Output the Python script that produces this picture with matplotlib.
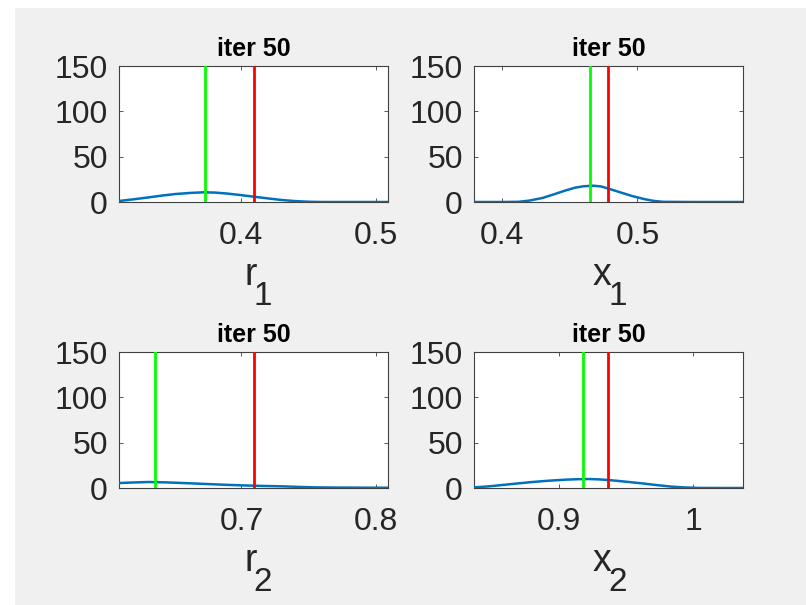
import matplotlib
matplotlib.use("Agg")
import matplotlib.pyplot as plt
from matplotlib.transforms import offset_copy
from matplotlib.patches import Rectangle

plt.rcParams['font.family'] = ['Liberation Sans', 'DejaVu Sans']

# density curves
r1_x = [0.309, 0.320, 0.331, 0.341, 0.351, 0.362, 0.372, 0.380, 0.388, 0.398, 0.409, 0.420, 0.430, 0.440, 0.450, 0.460, 0.480, 0.509]
r1_y = [1.1, 3.0, 5.1, 7.1, 8.8, 10.0, 10.7, 10.4, 9.5, 7.9, 5.9, 3.9, 2.2, 1.0, 0.3, 0.0, 0.0, 0.0]

x1_x = [0.3793, 0.400, 0.412, 0.420, 0.430, 0.439, 0.447, 0.454, 0.460, 0.467, 0.473, 0.478, 0.487, 0.496, 0.505, 0.512, 0.519, 0.540, 0.5779]
x1_y = [0, 0, 0.2, 1.5, 4.5, 8.8, 12.8, 15.8, 17.3, 18.0, 17.2, 15.0, 10.8, 6.6, 3.2, 1.2, 0.2, 0, 0]

r2_x = [0.609, 0.620, 0.631, 0.644, 0.658, 0.674, 0.687, 0.701, 0.715, 0.731, 0.743, 0.755, 0.770, 0.790, 0.809]
r2_y = [5.5, 6.1, 6.6, 6.2, 5.4, 4.4, 3.6, 2.9, 2.3, 1.8, 1.2, 0.7, 0.5, 0.35, 0.3]

x2_x = [0.8366, 0.846, 0.855, 0.867, 0.880, 0.892, 0.905, 0.914, 0.922, 0.930, 0.937, 0.949, 0.962, 0.973, 0.984, 0.994, 1.004, 1.020, 1.037]
x2_y = [0.7, 1.6, 2.9, 4.7, 6.6, 8.0, 9.2, 9.7, 9.9, 9.5, 8.8, 7.1, 5.1, 3.2, 1.5, 0.6, 0.1, 0, 0]

# green = estimate, red = true value
green_vals = [0.3727, 0.465, 0.6358, 0.918]
red_vals = [0.4092, 0.4785, 0.7092, 0.9366]

xlims = [(0.309, 0.509), (0.3793, 0.5779), (0.609, 0.809), (0.8366, 1.0373)]
xticks = [[0.4, 0.5], [0.4, 0.5], [0.7, 0.8], [0.9, 1.0]]
xticklabels = [['0.4', '0.5'], ['0.4', '0.5'], ['0.7', '0.8'], ['0.9', '1']]
yticks = [0, 50, 100, 150]
names = ['r', 'x', 'r', 'x']
subs = ['1', '1', '2', '2']
title = 'iter 50'

curves_x = [r1_x, x1_x, r2_x, x2_x]
curves_y = [r1_y, x1_y, r2_y, x2_y]

W, H = 806, 605
fig = plt.figure(figsize=(W / 100, H / 100), dpi=100)
fig.patch.set_facecolor('white')
fig.patches.append(Rectangle((15 / W, 0), 1 - 15 / W, (H - 8) / H, transform=fig.transFigure,
                             facecolor='#f0f0f0', edgecolor='none', zorder=-10))

# axes boxes in pixels (left, top)
boxes = [(119, 66), (474, 66), (119, 352), (474, 352)]
aw, ah = 269, 136

for i in range(4):
    left, top = boxes[i]
    ax = fig.add_axes([left / W, 1 - (top + ah) / H, aw / W, ah / H])
    ax.set_facecolor('white')
    ax.plot(curves_x[i], curves_y[i], color='#0072BD', lw=1.8, zorder=3)
    ax.plot([green_vals[i], green_vals[i]], [0, 150], color='#00ff00', lw=2.0, zorder=4)
    ax.plot([red_vals[i], red_vals[i]], [0, 150], color='#ff0000', lw=2.0, zorder=4)
    ax.set_xlim(xlims[i])
    ax.set_ylim(0, 150)
    ax.set_yticks(yticks)
    ax.set_xticks(xticks[i])
    ax.set_xticklabels(xticklabels[i])
    ax.tick_params(direction='in', length=3, width=0.6, color='#404040',
                   labelsize=23, labelcolor='#262626', top=True, right=True)
    ax.tick_params(axis='x', pad=14)
    ax.tick_params(axis='y', pad=8)
    for s in ax.spines.values():
        s.set_color('#404040')
        s.set_linewidth(0.8)
    ax.set_title(title, fontsize=18, fontweight='bold', pad=7, color='black')

    # x label with near full size subscript like matlab tex
    t1 = offset_copy(ax.transAxes, fig=fig, x=3, y=-83, units='dots')
    ax.text(0.5, 0, names[i], transform=t1, ha='right', va='baseline', fontsize=27, color='#262626')
    t2 = offset_copy(ax.transAxes, fig=fig, x=0, y=-103, units='dots')
    ax.text(0.5, 0, subs[i], transform=t2, ha='left', va='baseline', fontsize=24, color='#262626')

plt.savefig('out.png', dpi=100, facecolor=fig.get_facecolor())
